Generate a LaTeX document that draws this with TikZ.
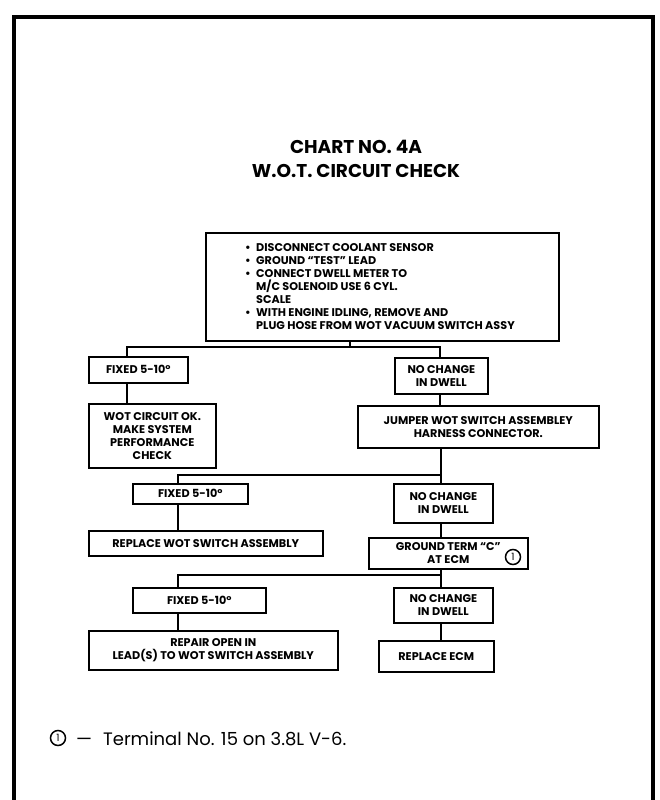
\documentclass[tikz,border=0pt]{standalone}
\usepackage{fontspec}
\setmainfont{Poppins}
\begin{document}
\begin{tikzpicture}[x=1pt,y=-1pt,
  box/.style={draw, line width=1.6pt, anchor=north west, inner sep=0pt,
    align=center, font=\bfseries\fontsize{11.2}{13}\selectfont},
  link/.style={line width=1.6pt},
  refmark/.style={draw, circle, line width=1.5pt, inner sep=0pt, minimum size=15pt,
    font=\fontsize{10}{10}\selectfont}
]
\useasboundingbox (0,0) rectangle (660,800);

% outer frame, open at the foot of the page
\draw[line width=4pt] (14,800) -- (14,17) -- (653,17) -- (653,800);

% heading
\node[font=\bfseries\fontsize{18.5}{24}\selectfont, align=center] (title) at (356,159)
  {CHART NO. 4A\\W.O.T. CIRCUIT CHECK};

% first step
\node[box, minimum width=353pt, minimum height=108pt] (start) at (205,232) {};
\node[anchor=west, align=left, inner sep=0pt,
  font=\bfseries\fontsize{11.2}{13}\selectfont] (startlist) at (245,287)
  {\makebox[11pt][l]{•}DISCONNECT COOLANT SENSOR\\
   \makebox[11pt][l]{•}GROUND “TEST” LEAD\\
   \makebox[11pt][l]{•}CONNECT DWELL METER TO\\
   \makebox[11pt][l]{}M/C SOLENOID USE 6 CYL.\\
   \makebox[11pt][l]{}SCALE\\
   \makebox[11pt][l]{•}WITH ENGINE IDLING, REMOVE AND\\
   \makebox[11pt][l]{}PLUG HOSE FROM WOT VACUUM SWITCH ASSY};

% left column
\node[box, minimum width=99pt, minimum height=26pt] (f1) at (88,356) {FIXED 5-10°};
\node[box, minimum width=127pt, minimum height=64pt] (ok) at (88,403)
  {WOT CIRCUIT OK.\\MAKE SYSTEM\\PERFORMANCE\\CHECK};
\node[box, minimum width=115pt, minimum height=20pt] (f2) at (132,483) {FIXED 5-10°};
\node[box, minimum width=234pt, minimum height=25pt] (repwot) at (88,530)
  {REPLACE WOT SWITCH ASSEMBLY};
\node[box, minimum width=133pt, minimum height=25pt] (f3) at (132,587) {FIXED 5-10°};
\node[box, minimum width=249pt, minimum height=39pt] (repair) at (88,630)
  {REPAIR OPEN IN\\LEAD(S) TO WOT SWITCH ASSEMBLY};

% right column
\node[box, minimum width=93pt, minimum height=36pt] (n1) at (394,357)
  {NO CHANGE\\IN DWELL};
\node[box, minimum width=241pt, minimum height=42pt] (jmp) at (357,405)
  {JUMPER WOT SWITCH ASSEMBLEY\\HARNESS CONNECTOR.};
\node[box, minimum width=99pt, minimum height=39pt] (n2) at (393,483)
  {NO CHANGE\\IN DWELL};
\node[box, minimum width=159pt, minimum height=31pt] (gnd) at (368,537)
  {GROUND TERM “C”\\AT ECM};
\node[refmark] (gndref) at (513,557) {1};
\node[box, minimum width=99pt, minimum height=35pt] (n3) at (393,587)
  {NO CHANGE\\IN DWELL};
\node[box, minimum width=115pt, minimum height=31pt] (ecm) at (378,640)
  {REPLACE ECM};

% branch points
\coordinate (j1) at (350,347);
\coordinate (j1L) at (127,347);
\coordinate (j1R) at (440,347);
\coordinate (j2L) at (178,475);
\coordinate (j2R) at (441,475);
\coordinate (j3L) at (178,575);
\coordinate (j3R) at (441,575);

% connectors
\draw[link] (start.south -| j1) -- (j1);
\draw[link] (f1.north -| j1L) -- (j1L) -- (j1R) -- (n1.north -| j1R);
\draw[link] (f1.south -| j1L) -- (ok.north -| j1L);
\draw[link] (n1.south -| j1R) -- (jmp.north -| j1R);
\draw[link] (jmp.south -| j2R) -- (n2.north -| j2R);
\draw[link] (j2R) -- (j2L) -- (f2.north -| j2L);
\draw[link] (f2.south -| j2L) -- (repwot.north -| j2L);
\draw[link] (n2.south -| j2R) -- (gnd.north -| j2R);
\draw[link] (gnd.south -| j3R) -- (n3.north -| j3R);
\draw[link] (j3R) -- (j3L) -- (f3.north -| j3L);
\draw[link] (f3.south -| j3L) -- (repair.north -| j3L);
\draw[link] (n3.south -| j3R) -- (ecm.north -| j3R);

% footnote
\node[refmark] (fnmark) at (58,738) {1};
\node[anchor=west, inner sep=0pt, font=\fontsize{18}{20}\selectfont] (fntext) at (76,739)
  {—\hspace{11pt}Terminal No. 15 on 3.8L V-6.};
\end{tikzpicture}
\end{document}
